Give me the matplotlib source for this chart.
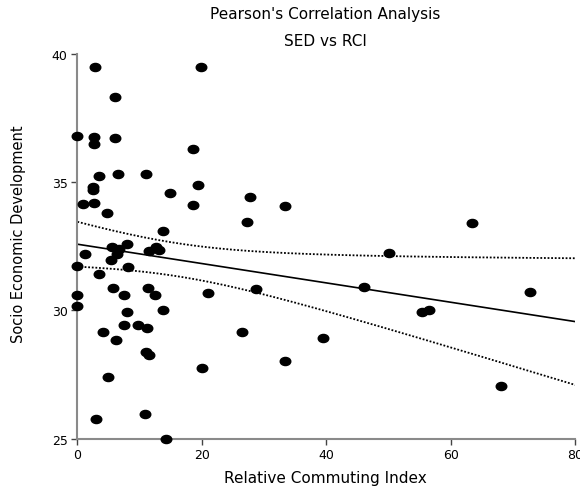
import numpy as np
import matplotlib
matplotlib.use("Agg")
import matplotlib.pyplot as plt
from matplotlib.path import Path
from matplotlib.transforms import Affine2D

# Relative Commuting Index (x) and Socio Economic Development (y)
rci = [2.8, 19.9, 6.1, 0.0, 2.6, 2.7, 6.1, 18.6, 3.5, 6.6, 11.0, 2.5, 2.55, 19.4,
       14.9, 0.85, 2.7, 18.5, 4.7, 13.7, 7.9, 5.6, 6.7, 6.4, 1.2, 11.5, 12.6, 13.1,
       5.45, 0.0, 8.2, 3.4, 5.8, 11.4, 7.5, 12.5, 0.0, 21.0, 0.0, 7.9, 13.7, 4.1,
       7.5, 9.7, 11.2, 6.2, 11.0, 11.55, 20.0, 4.9, 3.0, 10.9, 14.2, 27.7, 33.3,
       27.2, 50.0, 28.7, 46.1, 26.5, 39.5, 33.4, 63.4, 72.8, 55.4, 56.5, 68.1]
sed = [39.5, 39.5, 38.3, 36.8, 36.75, 36.5, 36.7, 36.3, 35.25, 35.3, 35.3, 34.8,
       34.68, 34.9, 34.56, 34.16, 34.2, 34.12, 33.8, 33.1, 32.6, 32.47, 32.38, 32.2,
       32.2, 32.3, 32.46, 32.35, 31.98, 31.74, 31.7, 31.4, 30.87, 30.87, 30.6, 30.6,
       30.6, 30.68, 30.16, 29.95, 30.03, 29.17, 29.44, 29.44, 29.3, 28.86, 28.37,
       28.27, 27.74, 27.4, 25.77, 25.96, 24.99, 34.43, 34.08, 33.46, 32.22, 30.83,
       30.92, 29.17, 28.92, 28.04, 33.42, 30.7, 29.95, 30.03, 27.04]

x_ticks = [0, 20, 40, 60, 80]
y_ticks = [25, 30, 35, 40]

title1 = "Pearson's Correlation Analysis"
title2 = "SED vs RCI"
xlabel = "Relative Commuting Index"
ylabel = "Socio Economic Development"

plt.rcParams['font.family'] = ['DejaVu Sans']

x = np.array(rci)
y = np.array(sed)
n = len(x)
slope, intercept = np.polyfit(x, y, 1)
xs = np.linspace(0, 80, 200)
yhat = intercept + slope * xs
resid = y - (intercept + slope * x)
s = np.sqrt(np.sum(resid ** 2) / (n - 2))
sxx = np.sum((x - x.mean()) ** 2)
tval = 1.669  # two-sided 90% t value, df = n - 2
half = tval * s * np.sqrt(1.0 / n + (xs - x.mean()) ** 2 / sxx)

W, H = 580, 489
fig = plt.figure(figsize=(W / 100, H / 100), dpi=100)
ax = fig.add_axes([77.4 / W, 1 - 439.7 / H, (575.3 - 77.4) / W, (439.7 - 54.7) / H])

ell = Path.unit_circle().transformed(Affine2D().scale(1.3, 1.0))
ax.plot(x, y, linestyle='none', marker=ell, markersize=7.6, color='black',
        clip_on=False, zorder=3)
ax.plot(xs, yhat, color='black', lw=1.2)
ax.plot(xs, yhat + half, color='black', lw=1.3, linestyle=(0, (1, 1)))
ax.plot(xs, yhat - half, color='black', lw=1.3, linestyle=(0, (1, 1)))

ax.set_xlim(0, 80)
ax.set_ylim(25, 40)
ax.set_xticks(x_ticks)
ax.set_yticks(y_ticks)
for sp in ['top', 'right']:
    ax.spines[sp].set_visible(False)
for sp in ['left', 'bottom']:
    ax.spines[sp].set_color('#8a8a8a')
    ax.spines[sp].set_linewidth(1.5)
ax.tick_params(direction='out', length=4, width=1.0, color='#444444',
               labelsize=9, pad=3)

ax.set_xlabel(xlabel, fontsize=11, va='baseline')
ax.xaxis.set_label_coords(0.499, -(483.3 - 439.7) / 385.0)
ax.set_ylabel(ylabel, fontsize=10.5, va='center')
ax.yaxis.set_label_coords((19 - 77.4) / 497.9, 0.535)

fig.text(325 / W, 1 - 19.5 / H, title1, ha='center', va='baseline', fontsize=11)
fig.text(325 / W, 1 - 46.5 / H, title2, ha='center', va='baseline', fontsize=11)

fig.savefig("out.png", dpi=100)
